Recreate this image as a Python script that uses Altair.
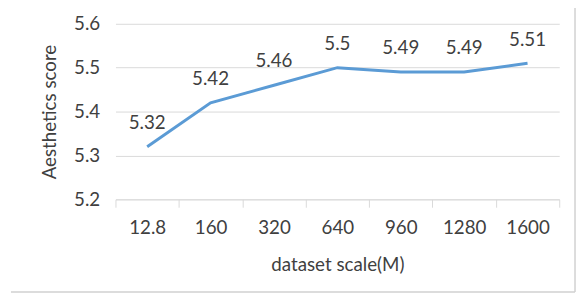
import altair as alt
import pandas as pd

scales = ["12.8", "160", "320", "640", "960", "1280", "1600"]
scores = [5.32, 5.42, 5.46, 5.5, 5.49, 5.49, 5.51]
score_labels = ["5.32", "5.42", "5.46", "5.5", "5.49", "5.49", "5.51"]
y_ticks = [5.2, 5.3, 5.4, 5.5, 5.6]

df = pd.DataFrame({"scale": scales, "score": scores, "label": score_labels})
frame_df = pd.DataFrame({"k": [0]})

FONT = "Lato"
TXT = "#404040"
GRID = "#d9d9d9"
FRAME = "#d0d0d0"
LINE = "#5B9BD5"
FS = 19

x = alt.X(
    "scale:N",
    sort=scales,
    scale=alt.Scale(type="band", paddingInner=0, paddingOuter=0),
    axis=alt.Axis(
        title="dataset scale(M)",
        labelAngle=0,
        tickBand="extent",
        ticks=True,
        tickSize=8,
        tickColor=GRID,
        tickWidth=1,
        domainColor=GRID,
        domainWidth=1,
        grid=False,
        labelPadding=12,
        titlePadding=18,
    ),
)
y = alt.Y(
    "score:Q",
    scale=alt.Scale(domain=[5.2, 5.6], nice=False, zero=False),
    axis=alt.Axis(
        title="Aesthetics score",
        values=y_ticks,
        format=".1f",
        ticks=False,
        domain=False,
        grid=True,
        gridColor=GRID,
        gridWidth=1,
        labelPadding=16,
        titlePadding=14,
    ),
)

line = alt.Chart(df).mark_line(color=LINE, strokeWidth=3).encode(x=x, y=y)
labels = alt.Chart(df).mark_text(
    baseline="bottom", dy=-14, font=FONT, fontSize=FS, color=TXT
).encode(x=x, y=y, text="label:N")

frame_right = alt.Chart(frame_df).mark_rule(color=FRAME, strokeWidth=1.5).encode(
    x=alt.value(466), y=alt.value(-22), y2=alt.value(272)
)
frame_bottom = alt.Chart(frame_df).mark_rule(color=FRAME, strokeWidth=1.5).encode(
    x=alt.value(-106), x2=alt.value(466), y=alt.value(272)
)

chart = (
    alt.layer(line, labels, frame_right, frame_bottom)
    .properties(
        width=450,
        height=178,
        background="white",
        autosize=alt.AutoSizeParams(type="none"),
        padding={"left": 109, "top": 14, "right": 17, "bottom": 95},
    )
    .configure_view(stroke=None)
    .configure_axis(
        labelFont=FONT,
        labelFontSize=FS,
        labelColor=TXT,
        titleFont=FONT,
        titleFontSize=FS,
        titleFontWeight="normal",
        titleColor=TXT,
    )
    .configure_axisY(domain=False)
)

chart.save("out.html", embed_options={"renderer": "svg", "actions": False})
